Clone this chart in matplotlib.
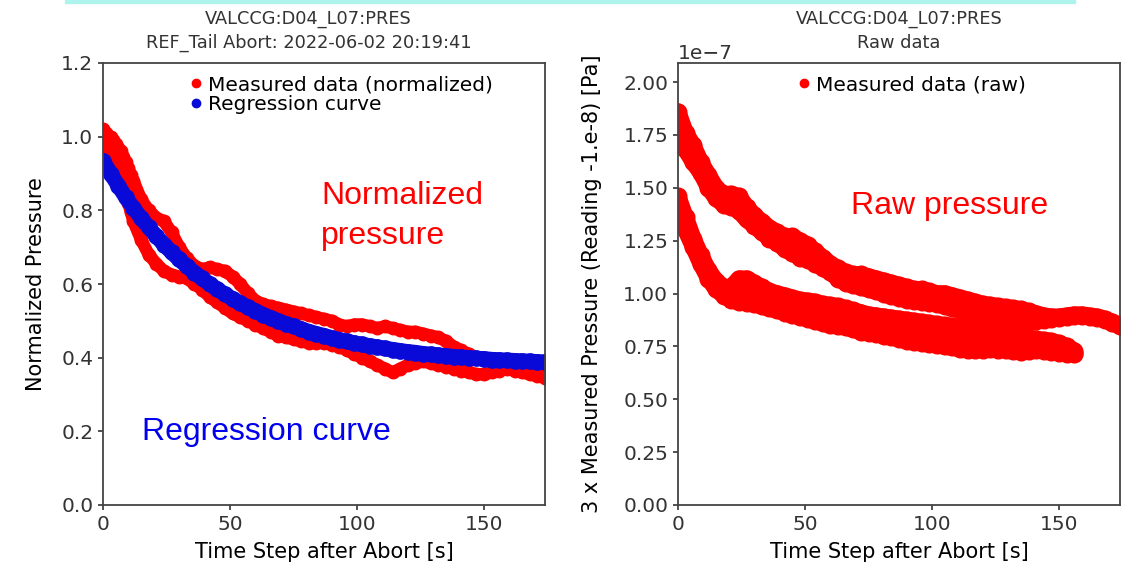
import numpy as np
import matplotlib.pyplot as plt
from matplotlib.patches import Rectangle
from matplotlib.lines import Line2D

# time grids
t_long = np.r_[np.arange(0, 12), np.arange(12, 175, 3)]
t_fit = np.arange(0, 175, 3)
t_raw_a = np.arange(0, 175, 3)
t_raw_b = np.arange(0, 157, 3)

# normalized measured data, two aborts
norm_run_a = [1.02, 1.01, 1.00, 1.00, 0.99, 0.98, 0.97, 0.96, 0.945, 0.93, 0.915, 0.895,
              0.88, 0.83, 0.80, 0.78, 0.77, 0.74, 0.70, 0.67, 0.65, 0.64,
              0.645, 0.64, 0.635, 0.62, 0.60, 0.575, 0.555, 0.545, 0.54, 0.535,
              0.53, 0.525, 0.52, 0.515, 0.51, 0.505, 0.50, 0.49, 0.485, 0.49,
              0.49, 0.485, 0.48, 0.485, 0.48, 0.475, 0.47, 0.47, 0.465, 0.46,
              0.455, 0.445, 0.43, 0.42, 0.41, 0.40, 0.395, 0.39, 0.385, 0.38,
              0.38, 0.375, 0.37, 0.36, 0.35]
norm_run_b = [0.97, 0.96, 0.955, 0.95, 0.94, 0.92, 0.90, 0.88, 0.86, 0.84, 0.82, 0.795,
              0.77, 0.72, 0.68, 0.655, 0.635, 0.625, 0.62, 0.615, 0.60, 0.585,
              0.565, 0.55, 0.535, 0.52, 0.51, 0.50, 0.49, 0.48, 0.47, 0.46,
              0.455, 0.45, 0.445, 0.44, 0.44, 0.44, 0.435, 0.43, 0.42, 0.41,
              0.40, 0.39, 0.38, 0.37, 0.36, 0.37, 0.38, 0.385, 0.39, 0.385,
              0.38, 0.375, 0.37, 0.365, 0.36, 0.355, 0.355, 0.36, 0.365, 0.37,
              0.365, 0.36, 0.355, 0.35, 0.345]

# regression curve values
regression = [0.935, 0.900, 0.867, 0.835, 0.806, 0.779, 0.754, 0.730, 0.707, 0.686,
              0.667, 0.648, 0.631, 0.615, 0.600, 0.586, 0.572, 0.560, 0.548, 0.537,
              0.527, 0.517, 0.508, 0.500, 0.492, 0.485, 0.478, 0.471, 0.465, 0.460,
              0.454, 0.449, 0.444, 0.440, 0.436, 0.432, 0.429, 0.425, 0.422, 0.419,
              0.416, 0.414, 0.411, 0.409, 0.407, 0.405, 0.403, 0.401, 0.400, 0.398,
              0.397, 0.395, 0.394, 0.393, 0.392, 0.391, 0.390, 0.389, 0.388]

# raw data (units of 1e-7 Pa), upper / lower side of each abort's trace
raw_a_hi = [1.86, 1.76, 1.70, 1.62, 1.56, 1.50, 1.47, 1.47, 1.46, 1.41,
            1.37, 1.34, 1.31, 1.29, 1.27, 1.27, 1.25, 1.23, 1.20, 1.17,
            1.14, 1.12, 1.10, 1.09, 1.09, 1.08, 1.07, 1.06, 1.05, 1.04,
            1.03, 1.02, 1.02, 1.01, 1.00, 1.00, 0.99, 0.98, 0.97, 0.96,
            0.95, 0.945, 0.94, 0.935, 0.93, 0.925, 0.915, 0.905, 0.895, 0.89,
            0.89, 0.895, 0.90, 0.90, 0.895, 0.89, 0.88, 0.865, 0.85]
raw_a_lo = [1.72, 1.68, 1.62, 1.57, 1.50, 1.45, 1.42, 1.41, 1.39, 1.35,
            1.32, 1.29, 1.26, 1.24, 1.21, 1.19, 1.17, 1.16, 1.14, 1.12,
            1.10, 1.07, 1.05, 1.04, 1.03, 1.02, 1.01, 1.00, 0.99, 0.98,
            0.97, 0.965, 0.96, 0.955, 0.95, 0.94, 0.93, 0.92, 0.91, 0.90,
            0.895, 0.89, 0.885, 0.88, 0.875, 0.87, 0.87, 0.87, 0.875, 0.88,
            0.885, 0.89, 0.895, 0.895, 0.89, 0.885, 0.875, 0.86, 0.845]
raw_b_hi = [1.46, 1.36, 1.26, 1.18, 1.11, 1.06, 1.03, 1.03, 1.07, 1.07,
            1.05, 1.03, 1.01, 1.00, 0.99, 0.98, 0.97, 0.965, 0.96, 0.95,
            0.945, 0.94, 0.93, 0.92, 0.91, 0.90, 0.895, 0.89, 0.885, 0.88,
            0.875, 0.87, 0.865, 0.86, 0.855, 0.85, 0.845, 0.84, 0.835, 0.83,
            0.82, 0.815, 0.81, 0.805, 0.80, 0.795, 0.79, 0.785, 0.78, 0.775,
            0.765, 0.75, 0.73]
raw_b_mid = [1.43, 1.33, 1.24, 1.16, 1.09, 1.04, 1.01, 1.00, 1.01, 1.00,
             0.995, 0.98, 0.97, 0.96, 0.95, 0.94, 0.925, 0.915, 0.91, 0.90,
             0.895, 0.89, 0.885, 0.87, 0.86, 0.855, 0.85, 0.845, 0.84, 0.83,
             0.82, 0.815, 0.81, 0.805, 0.80, 0.795, 0.79, 0.785, 0.78, 0.78,
             0.775, 0.775, 0.77, 0.765, 0.76, 0.755, 0.755, 0.755, 0.75, 0.745,
             0.74, 0.73, 0.72]
raw_b_lo = [1.40, 1.30, 1.22, 1.14, 1.07, 1.02, 0.99, 0.97, 0.96, 0.955,
            0.95, 0.94, 0.93, 0.92, 0.91, 0.90, 0.89, 0.88, 0.87, 0.86,
            0.85, 0.845, 0.84, 0.83, 0.82, 0.815, 0.81, 0.80, 0.795, 0.785,
            0.775, 0.77, 0.765, 0.76, 0.755, 0.75, 0.745, 0.74, 0.735, 0.735,
            0.735, 0.74, 0.735, 0.735, 0.73, 0.725, 0.73, 0.735, 0.73, 0.725,
            0.72, 0.715, 0.715]

red = '#ff0000'
blue = '#0a0ad8'
fs = 14.5
band = dict(solid_joinstyle='round', solid_capstyle='round')

fig = plt.figure(figsize=(11.22, 5.72), dpi=100)
fig.patches.append(Rectangle((65 / 1122, 1 - 3 / 572), 1010 / 1122, 3 / 572,
                             transform=fig.transFigure, color='#aef4ec', zorder=0))

ax1 = fig.add_axes([103 / 1122, 67 / 572, 442 / 1122, 442 / 572])
ax2 = fig.add_axes([678 / 1122, 67 / 572, 442 / 1122, 442 / 572])

ax1.plot(t_long, norm_run_a, 'o-', ms=9, lw=9, color=red, **band)
ax1.plot(t_long, norm_run_b, 'o-', ms=9, lw=9, color=red, **band)
ax1.plot(t_fit, regression, 'o-', ms=11, lw=11, color=blue, **band)
ax1.set_xlim(0, 174)
ax1.set_ylim(0, 1.2)
ax1.set_xticks([0, 50, 100, 150])
ax1.set_yticks(np.arange(0, 1.21, 0.2))
ax1.set_xlabel('Time Step after Abort [s]', fontsize=fs + 0.5, labelpad=6)
ax1.set_ylabel('Normalized Pressure', fontsize=fs + 0.5, labelpad=11)
ax1.set_title('VALCCG:D04_L07:PRES\nREF_Tail Abort: 2022-06-02 20:19:41',
              fontsize=12.8, x=0.465, pad=11, color='#333333', linespacing=1.4)
h1 = [Line2D([], [], marker='o', ls='none', color=red, ms=6),
      Line2D([], [], marker='o', ls='none', color=blue, ms=6)]
ax1.legend(h1, ['Measured data (normalized)', 'Regression curve'],
           loc='upper left', bbox_to_anchor=(0.17, 1.0), frameon=False, fontsize=fs,
           handlelength=0.6, handletextpad=0.3, labelspacing=0.05, borderaxespad=0.2)

for tt, vals in [(t_raw_a, raw_a_hi), (t_raw_a, raw_a_lo), (t_raw_b, raw_b_hi),
                 (t_raw_b, raw_b_mid), (t_raw_b, raw_b_lo)]:
    ax2.plot(tt, np.array(vals) * 1e-7, 'o-', ms=12, lw=12, color=red, **band)
ax2.set_xlim(0, 174)
ax2.set_ylim(0, 2.09e-7)
ax2.set_xticks([0, 50, 100, 150])
ax2.set_yticks(np.arange(0, 2.01e-7, 0.25e-7))
ax2.set_xlabel('Time Step after Abort [s]', fontsize=fs + 0.5, labelpad=6)
ax2.set_ylabel('3 x Measured Pressure (Reading -1.e-8) [Pa]', fontsize=fs + 0.5,
               labelpad=15)
ax2.set_title('VALCCG:D04_L07:PRES\nRaw data', fontsize=12.8, pad=11,
              color='#333333', linespacing=1.4)
h2 = [Line2D([], [], marker='o', ls='none', color=red, ms=6)]
ax2.legend(h2, ['Measured data (raw)'], loc='upper left', bbox_to_anchor=(0.243, 1.0),
           frameon=False, fontsize=fs, handlelength=0.6, handletextpad=0.3,
           borderaxespad=0.2)

for ax in (ax1, ax2):
    ax.tick_params(labelsize=fs, colors='#333333', width=1.2)
    ax.yaxis.get_offset_text().set_fontsize(fs)
    for sp in ax.spines.values():
        sp.set_linewidth(1.3)
        sp.set_color('#444444')

# slide annotations
fig.text(321 / 1122, 1 - 196 / 572, 'Normalized', color='red', fontsize=23,
         family='Liberation Sans', va='center', ha='left')
fig.text(321 / 1122, 1 - 236 / 572, 'pressure', color='red', fontsize=23,
         family='Liberation Sans', va='center', ha='left')
fig.text(142 / 1122, 1 - 432 / 572, 'Regression curve', color='#0000ee', fontsize=23,
         family='Liberation Sans', va='center', ha='left')
fig.text(851 / 1122, 1 - 206 / 572, 'Raw pressure', color='red', fontsize=23,
         family='Liberation Sans', va='center', ha='left')

fig.savefig('out.png', dpi=100)
